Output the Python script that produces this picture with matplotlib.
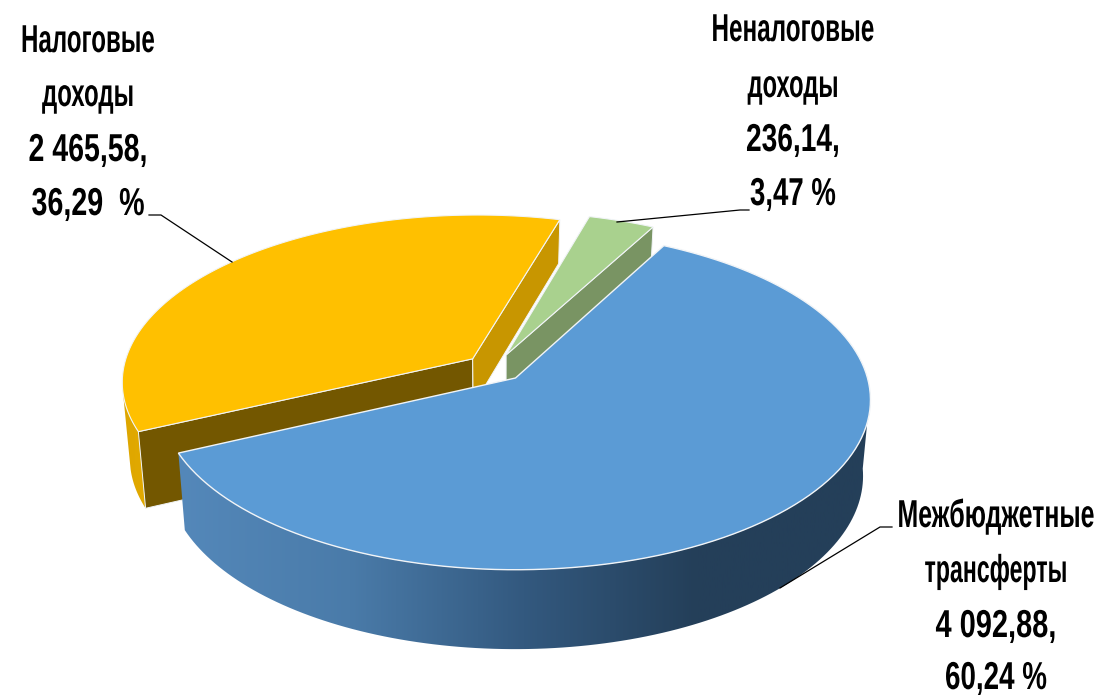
import numpy as np
import matplotlib
matplotlib.use('Agg')
import matplotlib.pyplot as plt
from matplotlib.colors import LinearSegmentedColormap
from matplotlib.patches import Polygon
from matplotlib.patheffects import AbstractPathEffect
from matplotlib.transforms import Affine2D

names = ['Межбюджетные трансферты', 'Налоговые доходы', 'Неналоговые доходы']
values = [4092.88, 2465.58, 236.14]

label_lines = [
    ['Межбюджетные', 'трансферты', '4 092,88,', '60,24 %'],
    ['Налоговые', 'доходы', '2 465,58,', '36,29  %'],
    ['Неналоговые', 'доходы', '236,14,', '3,47 %'],
]
label_x = [996, 88, 793]
label_baselines = [[527, 582, 637, 689], [52, 106, 161, 215], [41, 97, 151, 205]]
# widths of the condensed lines in the reference, pixels
label_widths = [[197, 143, 121, 102], [134, 92, 119, 113], [163, 91, 94, 86]]
leaders = [
    [(780, 588), (880, 527), (892, 527)],
    [(149, 215), (161, 215), (232, 262)],
    [(617, 222), (740, 210), (749, 210)],
]

# pie geometry, in picture pixels
first_angle = 28.0
explode = 0.085
origin = (515.5, 378)
scale_x, scale_y, persp = 352, 167, 0.129
side_depth = 76

top_colors = ['#5B9BD5', '#FFC000', '#A9D18E']
edge_color = '#F1F4F7'

share = np.array(values) / sum(values) * 360
starts = first_angle + np.concatenate([[0], np.cumsum(share)[:-1]])
ends = starts + share
mids = np.radians((starts + ends) / 2)
dirs = np.column_stack([np.sin(mids), np.cos(mids)])
offsets = explode * (dirs - dirs[0])


def project(X, Y):
    w = 1 + persp * Y
    return origin[0] + X * scale_x / w, origin[1] - Y * scale_y / w


def arc(i, a0, a1):
    t = np.radians(np.linspace(a0, a1, 120))
    return project(np.sin(t) + offsets[i, 0], np.cos(t) + offsets[i, 1])


def apex(i):
    return project(offsets[i, 0], offsets[i, 1])


def drop(x, y, depth=side_depth):
    x = np.asarray(x, dtype=float)
    y = np.asarray(y, dtype=float)
    return 500 + (x - 500) * 0.98, y + depth + (y - 400) * 0.02


def band(x, y, depth=side_depth):
    bx, by = drop(x, y, depth)
    return np.column_stack([np.r_[x, bx[::-1]], np.r_[y, by[::-1]]])


def wall(i, angle, depth=side_depth):
    ax0, ay0 = apex(i)
    ox, oy = arc(i, angle, angle)
    return band(np.array([ax0, ox[0]]), np.array([ay0, oy[0]]), depth)


def top_face(i):
    x, y = arc(i, starts[i], ends[i])
    ax0, ay0 = apex(i)
    return np.column_stack([np.r_[ax0, x], np.r_[ay0, y]])


# no condensed family is installed, so the glyphs are narrowed when drawn
class Squeeze(AbstractPathEffect):
    def __init__(self, anchor, sx):
        super().__init__()
        self.anchor = anchor
        self.sx = sx

    def draw_path(self, renderer, gc, tpath, affine, rgbFace=None):
        squeezed = affine + Affine2D().translate(-self.anchor, 0).scale(self.sx, 1).translate(self.anchor, 0)
        renderer.draw_path(gc, tpath, squeezed, rgbFace)


fig = plt.figure(figsize=(11.02, 6.95), dpi=100)
ax = fig.add_axes([0, 0, 1, 1])
ax.set_xlim(0, 1102)
ax.set_ylim(695, 0)
ax.axis('off')


def gradient_side(pts, colors, x0, x1, z):
    cmap = LinearSegmentedColormap.from_list('side', colors)
    im = ax.imshow(np.linspace(0, 1, 256).reshape(1, -1), cmap=cmap, aspect='auto',
                   extent=[x0, x1, 695, 0], zorder=z)
    poly = Polygon(pts, closed=True, fc='none', ec='none', transform=ax.transData)
    ax.add_patch(poly)
    im.set_clip_path(poly)


# Налоговые: outer side and the two cut faces
x, y = arc(1, starts[1], 258)
gradient_side(band(x, y), ['#DDA600', '#E3AA00'], 120, 150, 1)
ax.add_patch(Polygon(wall(1, starts[1]), closed=True, fc='#735700', ec=edge_color, lw=0.7, zorder=2))
ax.add_patch(Polygon(wall(1, ends[1], 47.5), closed=True, fc='#C89600', ec=edge_color, lw=0.7, zorder=2))

# Неналоговые: cut face
ax.add_patch(Polygon(wall(2, ends[2], 60), closed=True, fc='#799463', ec=edge_color, lw=0.7, zorder=3))

ax.add_patch(Polygon(top_face(1), closed=True, fc=top_colors[1], ec=edge_color, lw=0.8, zorder=4))
ax.add_patch(Polygon(top_face(2), closed=True, fc=top_colors[2], ec=edge_color, lw=0.8, zorder=4))

# Межбюджетные: outer side with the dark shading to the right, then top
x, y = arc(0, 95, ends[0])
gradient_side(band(x, y), ['#5488BA', '#4A7BA9', '#33597F', '#243F59', '#243F59'], 177, 870, 5)
ax.add_patch(Polygon(top_face(0), closed=True, fc=top_colors[0], ec=edge_color, lw=1.0, zorder=6))

for pts in leaders:
    xs, ys = zip(*pts)
    ax.plot(xs, ys, color='black', lw=0.9, zorder=7)

renderer = fig.canvas.get_renderer()
for lines, cx, bases, widths in zip(label_lines, label_x, label_baselines, label_widths):
    # anchor on the side away from the nearest edge so the full width box stays inside
    side = 'left' if cx < 551 else 'right'
    for line, base, width in zip(lines, bases, widths):
        anchor = cx - width / 2 if side == 'left' else cx + width / 2
        t = ax.text(anchor, base, line, ha=side, va='baseline', fontsize=28,
                    family='Liberation Sans', weight='bold', color='black', zorder=8)
        sx = width / t.get_window_extent(renderer).width
        t.set_path_effects([Squeeze(anchor, sx)])

fig.savefig('out.png', dpi=100)
